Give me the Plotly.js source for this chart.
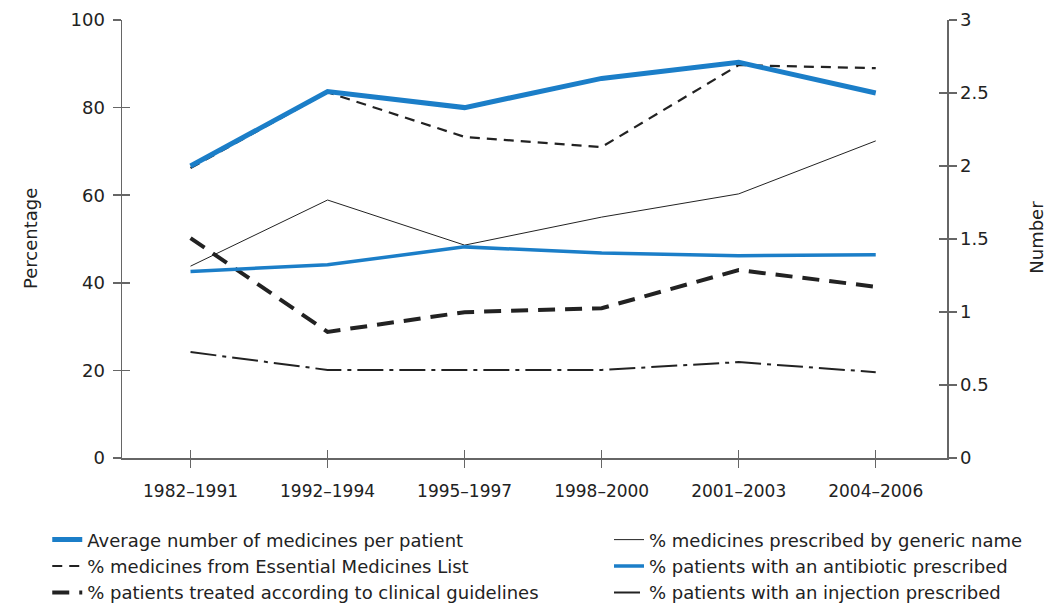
<!DOCTYPE html>
<html>
<head>
<meta charset="utf-8">
<script src="https://cdn.plot.ly/plotly-3.0.1.min.js"></script>
<style>html,body{margin:0;padding:0;background:#fff;}#chart{width:1050px;height:607px;}</style>
</head>
<body>
<div id="chart"></div>
<script>
// Data
const periods = ["1982\u20131991", "1992\u20131994", "1995\u20131997", "1998\u20132000", "2001\u20132003", "2004\u20132006"];
const avgMedicines = [2.0, 2.51, 2.40, 2.60, 2.71, 2.50];       // Number (right axis)
const pctGeneric = [43.8, 58.9, 48.6, 55.0, 60.3, 72.4];
const pctEML = [66.2, 83.5, 73.3, 71.0, 89.7, 89.0];
const pctAntibiotic = [42.6, 44.1, 48.2, 46.8, 46.2, 46.4];
const pctGuidelines = [50.2, 28.8, 33.3, 34.2, 42.9, 39.1];
const pctInjection = [24.2, 20.1, 20.1, 20.1, 21.9, 19.6];
const leftTicks = [0, 20, 40, 60, 80, 100];
const rightTicks = [0, 0.5, 1, 1.5, 2, 2.5, 3];
const rightTickText = ["0", "0.5", "1", "1.5", "2", "2.5", "3"];
const leftTitle = "Percentage";
const rightTitle = "Number";
const periodIdx = periods.map((p, i) => i);

const BLUE = "#1b7ec8";
const DARK = "#222222";
const FONT = "DejaVu Sans, Verdana, sans-serif";

const traces = [
  {name: "Average number of medicines per patient", x: periods, y: avgMedicines, yaxis: "y2",
   mode: "lines", line: {color: BLUE, width: 5}, legend: "legend"},
  {name: "% medicines from Essential Medicines List", x: periods, y: pctEML,
   mode: "lines", line: {color: DARK, width: 2.2, dash: "10px,7px"}, legend: "legend"},
  {name: "% patients treated according to clinical guidelines", x: periods, y: pctGuidelines,
   mode: "lines", line: {color: DARK, width: 4, dash: "17px,10px"}, legend: "legend"},
  {name: "% medicines prescribed by generic name", x: periods, y: pctGeneric,
   mode: "lines", line: {color: DARK, width: 1}, legend: "legend2"},
  {name: "% patients with an antibiotic prescribed", x: periods, y: pctAntibiotic,
   mode: "lines", line: {color: BLUE, width: 3.5}, legend: "legend2"},
  {name: "% patients with an injection prescribed", x: periods, y: pctInjection,
   mode: "lines", line: {color: DARK, width: 2, dash: "26px,6px,4px,6px"}, legend: "legend2"},
  // empty helper traces so the inner-tick axes get drawn (ticks crossing the axis lines)
  {x: [], y: [], xaxis: "x2", yaxis: "y3", type: "scatter", mode: "lines", showlegend: false, hoverinfo: "skip"},
  {x: [], y: [], xaxis: "x2", yaxis: "y4", type: "scatter", mode: "lines", showlegend: false, hoverinfo: "skip"}
];

const axisCommon = {showgrid: false, zeroline: false, linecolor: "#666", linewidth: 1.5,
  tickcolor: "#666", tickwidth: 1.5, ticklen: 8, tickfont: {family: FONT, size: 18, color: "#222"}};
const titleFont = {family: FONT, size: 18, color: "#222"};

const layout = {
  width: 1050, height: 607,
  margin: {l: 122, r: 103, t: 20, b: 149, autoexpand: false},
  paper_bgcolor: "#fff", plot_bgcolor: "#fff",
  font: {family: FONT, color: "#222"},
  xaxis: Object.assign({}, axisCommon, {type: "category", range: [-0.5, 5.52], ticks: "outside",
    showline: true, tickangle: 0, ticklabelstandoff: 9, tickfont: {family: FONT, size: 17, color: "#222"}}),
  xaxis2: Object.assign({}, axisCommon, {overlaying: "x", anchor: "y3", side: "bottom", type: "linear",
    range: [-0.5, 5.52], ticks: "inside", showline: false, showticklabels: false, tickvals: periodIdx}),
  yaxis: Object.assign({}, axisCommon, {range: [0, 100], tickvals: leftTicks, ticks: "outside", showline: true,
    ticklabelstandoff: 4}),
  yaxis2: Object.assign({}, axisCommon, {range: [0, 3], overlaying: "y", side: "right", anchor: "x",
    tickvals: rightTicks, ticktext: rightTickText, ticks: "outside", showline: true}),
  yaxis3: Object.assign({}, axisCommon, {range: [0, 100], overlaying: "y", side: "left", anchor: "x2",
    tickvals: leftTicks, ticks: "inside", showline: false, showticklabels: false}),
  yaxis4: Object.assign({}, axisCommon, {range: [0, 3], overlaying: "y", side: "right", anchor: "x2",
    tickvals: rightTicks, ticks: "inside", showline: false, showticklabels: false}),
  annotations: [
    {text: leftTitle, xref: "paper", yref: "paper", x: -0.1115, y: 0.5, xanchor: "center", yanchor: "middle",
     textangle: -90, showarrow: false, font: titleFont},
    {text: rightTitle, xref: "paper", yref: "paper", x: 1.109, y: 0.505, xanchor: "center", yanchor: "middle",
     textangle: -90, showarrow: false, font: titleFont}
  ],
  showlegend: true,
  legend: {xref: "container", yref: "container", x: 0.045, y: 0.141, xanchor: "left", yanchor: "top",
    orientation: "v", font: {family: FONT, size: 18, color: "#222"}, bgcolor: "rgba(0,0,0,0)"},
  legend2: {xref: "container", yref: "container", x: 0.58, y: 0.141, xanchor: "left", yanchor: "top",
    orientation: "v", font: {family: FONT, size: 18, color: "#222"}, bgcolor: "rgba(0,0,0,0)"}
};

Plotly.newPlot("chart", traces, layout, {displayModeBar: false, staticPlot: true});
</script>
</body>
</html>
